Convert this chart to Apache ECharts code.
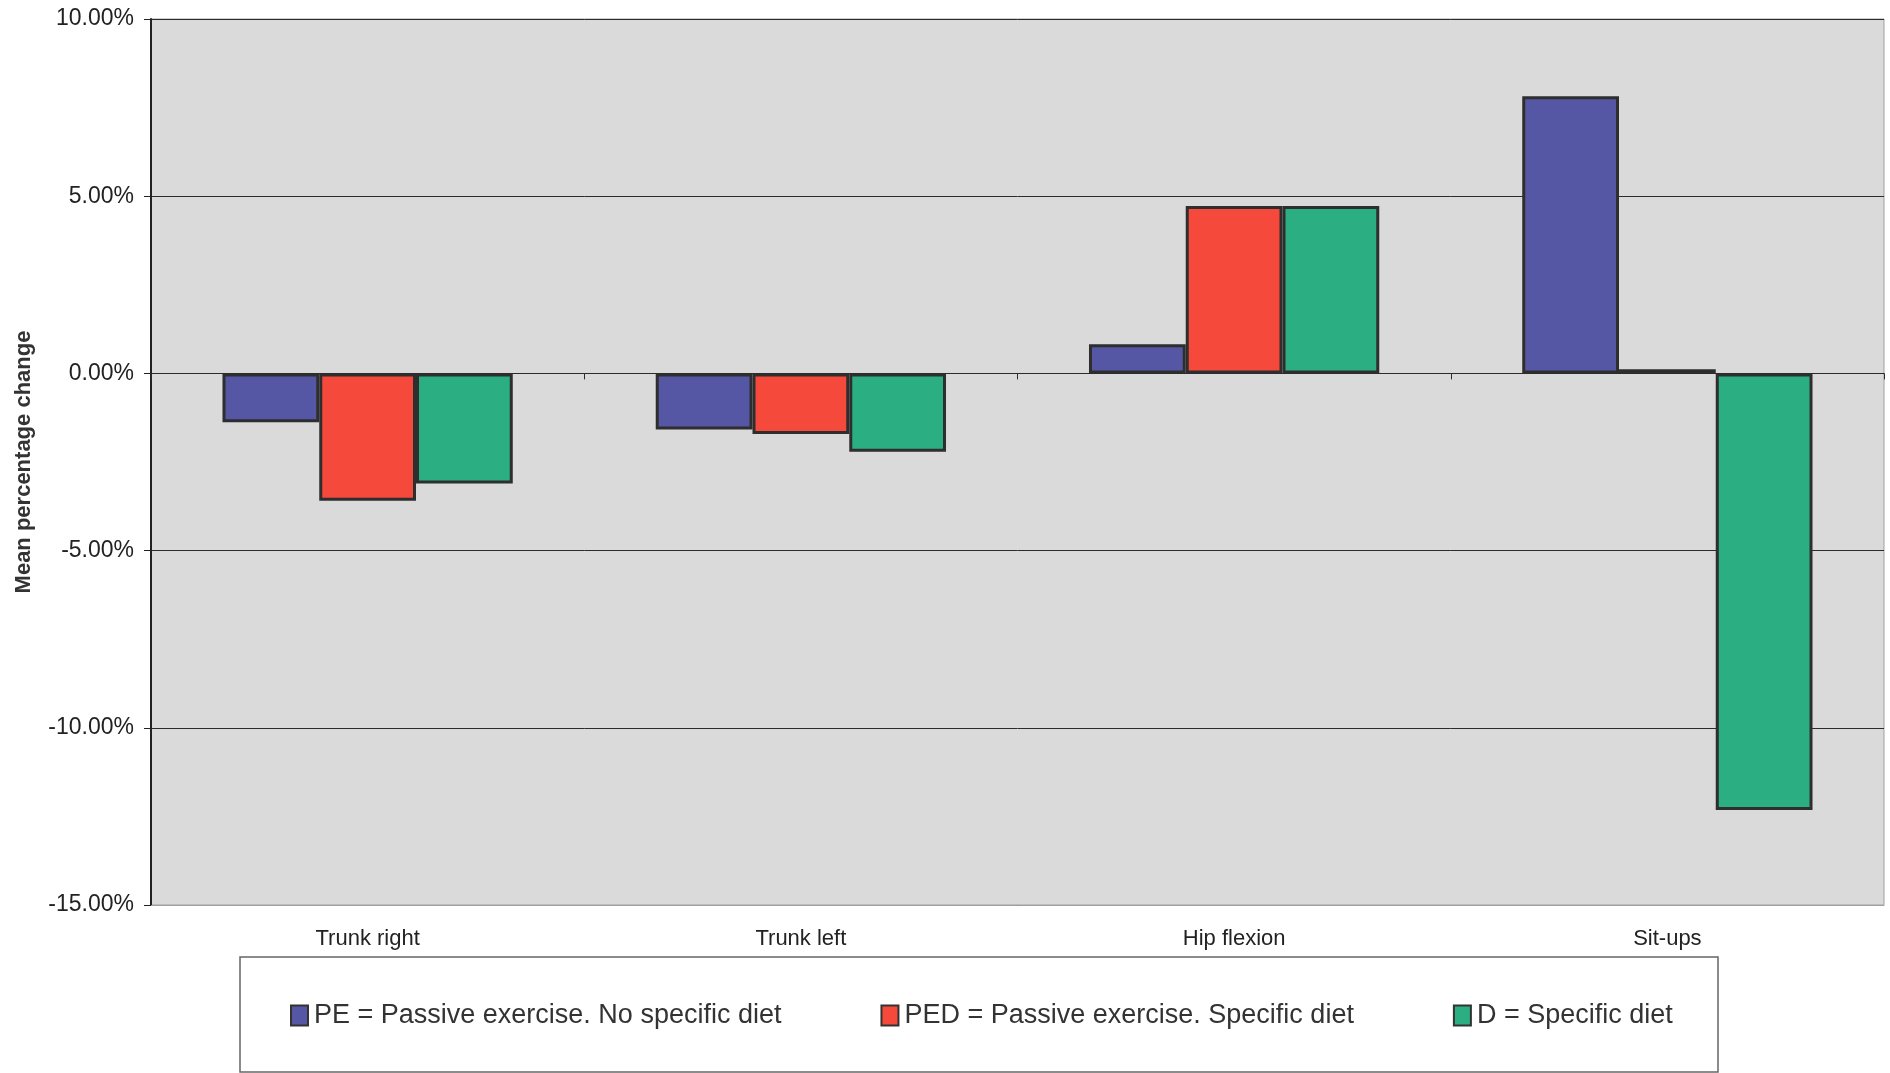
<!DOCTYPE html>
<html>
<head>
<meta charset="utf-8">
<style>
html,body{margin:0;padding:0;background:#ffffff;}
#chart{width:1890px;height:1073px;}
</style>
<script src="https://cdn.jsdelivr.net/npm/echarts@6/dist/echarts.min.js"></script>
</head>
<body>
<div id="chart"></div>
<script>
var categories = ['Trunk right', 'Trunk left', 'Hip flexion', 'Sit-ups'];
var seriesNames = ['PE = Passive exercise. No specific diet', 'PED = Passive exercise. Specific diet', 'D = Specific diet'];
var peValues = [-1.38, -1.58, 0.82, 7.82];
var pedValues = [-3.59, -1.71, 4.72, 0.12];
var dValues = [-3.11, -2.21, 4.72, -12.32];
var yMin = -15, yMax = 10, yStep = 5;
var yTitle = 'Mean percentage change';

var FONT = "'Liberation Sans', Arial, sans-serif";
var chart = echarts.init(document.getElementById('chart'), null, {renderer: 'canvas'});

function barSeries(name, data, color) {
  return {
    name: name,
    type: 'bar',
    xAxisIndex: 0,
    data: data,
    barGap: '0%',
    barCategoryGap: '33%',
    itemStyle: {color: color, borderColor: '#2e2e2e', borderWidth: 3},
    emphasis: {disabled: true},
    animation: false
  };
}

chart.setOption({
  backgroundColor: '#ffffff',
  animation: false,
  textStyle: {fontFamily: FONT},
  grid: {
    left: 151, right: 6, top: 19, bottom: 168,
    show: true, backgroundColor: '#dadada', borderColor: '#a0a0a0', borderWidth: 1
  },
  graphic: [{
    type: 'rect', z: -1,
    shape: {x: 240, y: 957, width: 1478, height: 115},
    style: {fill: '#ffffff', stroke: '#666666', lineWidth: 1.5}
  }],
  legend: {
    left: 290, top: 1002, padding: 0,
    itemGap: 99, itemWidth: 17, itemHeight: 20,
    icon: 'rect',
    itemStyle: {borderColor: '#333333', borderWidth: 2},
    textStyle: {fontFamily: FONT, fontSize: 27, color: '#333333', padding: [0, 0, 0, 1]},
    data: seriesNames
  },
  xAxis: [{
    type: 'category', data: categories, position: 'bottom',
    axisLine: {show: true, onZero: false, lineStyle: {color: '#a0a0a0', width: 1}},
    axisTick: {show: false},
    splitLine: {show: false},
    axisLabel: {fontFamily: FONT, fontSize: 22, color: '#222222', margin: 23}
  }, {
    type: 'category', data: categories, position: 'top',
    axisLine: {show: true, onZero: true, lineStyle: {color: '#2b2b2b', width: 1}},
    axisTick: {show: true, inside: true, length: 6, lineStyle: {color: '#2b2b2b'}},
    axisLabel: {show: false},
    splitLine: {show: false}
  }],
  yAxis: {
    type: 'value', min: yMin, max: yMax, interval: yStep,
    name: yTitle, nameLocation: 'middle', nameGap: 116,
    nameTextStyle: {fontFamily: FONT, fontSize: 22, fontWeight: 'bold', color: '#333333'},
    axisLine: {show: true, lineStyle: {color: '#222222', width: 2}},
    axisTick: {show: true, length: 7, lineStyle: {color: '#222222'}},
    splitLine: {show: true, lineStyle: {color: '#2b2b2b', width: 1}},
    axisLabel: {
      fontFamily: FONT, fontSize: 23, color: '#222222', margin: 17,
      formatter: function (v) { return v.toFixed(2) + '%'; }
    }
  },
  series: [
    barSeries(seriesNames[0], peValues, '#5557a5'),
    barSeries(seriesNames[1], pedValues, '#f4493b'),
    barSeries(seriesNames[2], dValues, '#2aae82')
  ]
});
</script>
</body>
</html>
